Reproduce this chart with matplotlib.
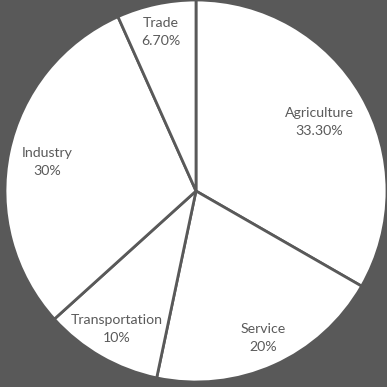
import matplotlib
matplotlib.use("Agg")
import matplotlib.pyplot as plt

sectors = ["Agriculture", "Service", "Transportation", "Industry", "Trade"]
shares = [33.3, 20, 10, 30, 6.7]
share_labels = ["33.30%", "20%", "10%", "30%", "6.70%"]

# label anchor points in pixel space (x from left, y from top)
label_px = [(319, 122), (263, 338), (117, 329), (47, 162), (161, 32)]

W = H = 387
bg = "#595959"
fig = plt.figure(figsize=(W / 100, H / 100), dpi=100, facecolor=bg)
ax = fig.add_axes([0, 0, 1, 1])
ax.set_facecolor(bg)

cx, cy, r = 196, H - 191, 191
ax.pie(shares, startangle=90, counterclock=False, center=(cx, cy), radius=r,
       colors=["white"] * len(shares),
       wedgeprops=dict(edgecolor=bg, linewidth=2.0), frame=True)
ax.set_xlim(0, W)
ax.set_ylim(0, H)
ax.set_aspect("equal")
ax.axis("off")

for name, lab, (px, py) in zip(sectors, share_labels, label_px):
    ax.text(px, H - py, f"{name}\n{lab}", ha="center", va="center",
            fontsize=10.2, family="Lato", color="#5a5a5a", linespacing=1.55)

fig.savefig("out.png", dpi=100, facecolor=bg)
